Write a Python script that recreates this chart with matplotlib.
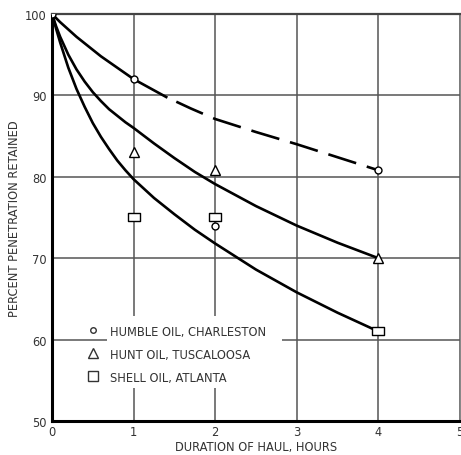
import numpy as np
import matplotlib
matplotlib.use("Agg")
import matplotlib.pyplot as plt
from matplotlib import font_manager
from matplotlib.lines import Line2D
from matplotlib.patches import Rectangle
from matplotlib.path import Path

# measured points
humble_t = [0, 1, 2, 4]
humble_pct = [100, 92.0, 73.9, 80.8]
hunt_t = [1, 2, 4]
hunt_pct = [83.0, 80.8, 70.0]
shell_t = [1, 2, 4]
shell_pct = [75.0, 75.1, 61.0]

# fitted curves
humble_fit_t = [0, 0.05, 0.1, 0.2, 0.3, 0.4, 0.5, 0.6, 0.7, 0.8, 0.9, 1,
                1.2, 1.4, 1.7, 2, 2.5, 3, 3.5, 4]
humble_fit_pct = [100, 99.5, 99.0, 98.1, 97.2, 96.4, 95.6, 94.8, 94.1, 93.4, 92.7, 92.0,
                  90.9, 89.8, 88.4, 87.1, 85.5, 84.0, 82.4, 80.8]
hunt_fit_t = [0, 0.05, 0.1, 0.2, 0.3, 0.4, 0.5, 0.6, 0.7, 0.8, 0.9, 1,
              1.25, 1.5, 1.75, 2, 2.5, 3, 3.5, 4]
hunt_fit_pct = [100, 98.5, 97.2, 95.0, 93.2, 91.7, 90.4, 89.3, 88.3, 87.5, 86.7, 86.0,
                84.1, 82.3, 80.6, 79.1, 76.4, 74.0, 71.9, 70.0]
shell_fit_t = [0, 0.05, 0.1, 0.2, 0.3, 0.4, 0.5, 0.6, 0.7, 0.8, 0.9, 1,
               1.25, 1.5, 1.75, 2, 2.5, 3, 3.5, 4]
shell_fit_pct = [100, 98.2, 96.5, 93.4, 90.8, 88.6, 86.6, 84.9, 83.4, 82.0, 80.8, 79.7,
                 77.4, 75.4, 73.5, 71.8, 68.6, 65.8, 63.3, 61.0]
dash_from = 1.4

labels = ["HUMBLE OIL, CHARLESTON", "HUNT OIL, TUSCALOOSA", "SHELL OIL, ATLANTA"]
xticks = [0, 1, 2, 3, 4, 5]
yticks = [50, 60, 70, 80, 90, 100]


def pick_font():
    # narrow sans like the scanned lettering, if there is one
    try:
        font_manager.findfont(font_manager.FontProperties(family="Liberation Sans Narrow"),
                              fallback_to_default=False)
        return "Liberation Sans Narrow", "normal"
    except Exception:
        return "DejaVu Sans", "condensed"


fam, stretch = pick_font()
plt.rcParams["font.family"] = [fam, "DejaVu Sans"]
plt.rcParams["font.stretch"] = stretch
plt.rcParams["lines.scale_dashes"] = False

txt = "#333333"
fs = 9.2

rect_marker = Path([(-1, -0.65), (1, -0.65), (1, 0.65), (-1, 0.65), (-1, -0.65)],
                   [Path.MOVETO, Path.LINETO, Path.LINETO, Path.LINETO, Path.CLOSEPOLY])

fig = plt.figure(figsize=(4.61, 4.56), dpi=100)
ax = fig.add_axes([0.1128, 0.0746, 0.885, 0.8925])

ax.set_xlim(0, 5)
ax.set_ylim(50, 100)
ax.set_xticks(xticks)
ax.set_yticks(yticks)
ax.tick_params(length=0, labelsize=fs, labelcolor=txt)
ax.tick_params(axis="x", pad=3)
ax.tick_params(axis="y", pad=4)
ax.set_axisbelow(True)
ax.grid(True, color="#555555", linewidth=1.1)

ax.spines["left"].set_linewidth(2.2)
ax.spines["bottom"].set_linewidth(2.2)
ax.spines["top"].set_linewidth(1.6)
ax.spines["top"].set_color("#444444")
ax.spines["right"].set_linewidth(0.8)
ax.spines["right"].set_color("#888888")

# white patch behind legend text, breaks the grid
ax.add_patch(Rectangle((0.67, 54.05), 2.15, 8.85, facecolor="white",
                       edgecolor="none", zorder=1))

hx = np.array(humble_fit_t)
hy = np.array(humble_fit_pct)
solid = hx <= dash_from
dashed = hx >= dash_from
ax.plot(hx[solid], hy[solid], color="black", lw=1.9, zorder=3)
ax.plot(hx[dashed], hy[dashed], color="black", lw=1.9, zorder=3,
        linestyle=(21, (21, 8)))
ax.plot(hunt_fit_t, hunt_fit_pct, color="black", lw=1.9, zorder=3)
ax.plot(shell_fit_t, shell_fit_pct, color="black", lw=1.9, zorder=3)

mk = dict(color="none", markerfacecolor="white", markeredgecolor="black",
          markeredgewidth=1.0, zorder=4)
ax.plot(humble_t, humble_pct, marker="o", markersize=5, **mk)
ax.plot(hunt_t, hunt_pct, marker="^", markersize=7, **mk)
ax.plot(shell_t, shell_pct, marker=rect_marker, markersize=8, **mk)

handles = [
    Line2D([], [], linestyle="none", marker="o", markersize=4,
           markerfacecolor="white", markeredgecolor=txt, markeredgewidth=1.0),
    Line2D([], [], linestyle="none", marker="^", markersize=7,
           markerfacecolor="white", markeredgecolor=txt, markeredgewidth=1.0),
    Line2D([], [], linestyle="none", marker="s", markersize=6.5,
           markerfacecolor="white", markeredgecolor=txt, markeredgewidth=1.0),
]
leg = ax.legend(handles, labels, loc="upper left", bbox_to_anchor=(0.085, 0.236),
                frameon=False, borderpad=0, borderaxespad=0, handlelength=1.0,
                handletextpad=0.8, labelspacing=0.77, fontsize=fs)
for t in leg.get_texts():
    t.set_color(txt)
leg.set_zorder(5)

ax.set_xlabel("DURATION OF HAUL, HOURS", fontsize=fs, color=txt, labelpad=1)
ax.set_ylabel("PERCENT PENETRATION RETAINED", fontsize=fs, color=txt, labelpad=3)

fig.savefig("out.png", dpi=100)
